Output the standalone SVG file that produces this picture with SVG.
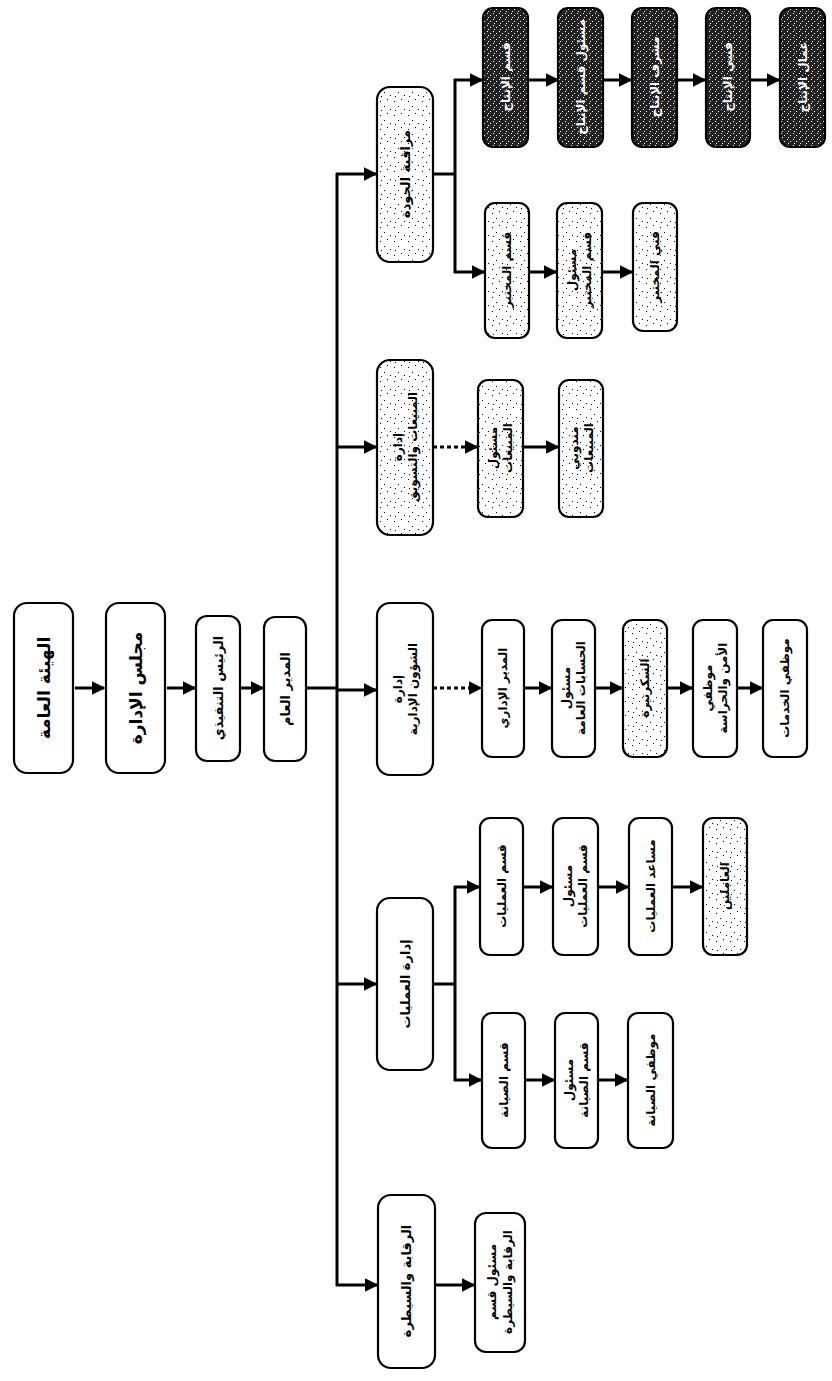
<svg xmlns="http://www.w3.org/2000/svg" width="832" height="1381" viewBox="0 0 832 1381">
<defs>
<marker id="ah" viewBox="0 0 10 10" refX="9" refY="5" markerWidth="4.6" markerHeight="4.6" orient="auto" markerUnits="strokeWidth">
<path d="M0,0 L10,5 L0,10 z" fill="#000"/>
</marker>
<pattern id="spk" width="14" height="14" patternUnits="userSpaceOnUse">
<rect width="14" height="14" fill="#fff"/>
<rect x="2" y="3" width="1" height="1" fill="#000"/><rect x="9" y="1" width="1" height="1" fill="#000"/>
<rect x="6" y="8" width="1" height="1" fill="#000"/><rect x="12" y="11" width="1" height="1" fill="#000"/>
<rect x="3" y="12" width="1" height="1" fill="#000"/>
</pattern>
<pattern id="drk" width="6" height="6" patternUnits="userSpaceOnUse">
<rect width="6" height="6" fill="#222"/>
<rect x="1" y="1" width="1" height="1" fill="#fff"/><rect x="4" y="3" width="1" height="1" fill="#fff"/>
<rect x="2" y="5" width="1" height="1" fill="#fff"/>
</pattern>
</defs>
<style>
.b{fill:#fff;stroke:#000;stroke-width:2.2}
.s{fill:url(#spk);stroke:#000;stroke-width:2.2}
.d{fill:url(#drk);stroke:#000;stroke-width:2.2}
.t{font-family:"DejaVu Sans","Noto Sans",sans-serif;font-weight:bold;font-size:12px;fill:#000;text-anchor:middle;dominant-baseline:central}
.L{font-size:17px}
.M{font-size:13px}
.w{fill:#fff}
.c{fill:none;stroke:#000;stroke-width:3}
.a{fill:none;stroke:#000;stroke-width:3;marker-end:url(#ah)}
.dash{stroke-dasharray:4 3}
</style>
<rect width="832" height="1381" fill="#fff"/>

<g id="connectors">
<line class="a" x1="75" y1="688" x2="104" y2="688"/>
<line class="a" x1="167" y1="688" x2="195" y2="688"/>
<line class="a" x1="241" y1="688" x2="263" y2="688"/>
<line class="c" x1="306" y1="688" x2="337" y2="688"/>
<line class="c" x1="337" y1="173" x2="337" y2="1286"/>
<line class="a" x1="336" y1="174" x2="376" y2="174"/>
<line class="a" x1="336" y1="447" x2="376" y2="447"/>
<line class="a" x1="336" y1="690" x2="376" y2="690"/>
<line class="a" x1="336" y1="984" x2="376" y2="984"/>
<line class="a" x1="336" y1="1285" x2="377" y2="1285"/>
<line class="c" x1="433" y1="174" x2="455" y2="174"/>
<line class="c" x1="455" y1="79" x2="455" y2="273"/>
<line class="a" x1="454" y1="80" x2="482" y2="80"/>
<line class="a" x1="454" y1="272" x2="484" y2="272"/>
<line class="a" x1="528" y1="80" x2="558" y2="80"/>
<line class="a" x1="603" y1="80" x2="631" y2="80"/>
<line class="a" x1="677" y1="80" x2="705" y2="80"/>
<line class="a" x1="750" y1="80" x2="779" y2="80"/>
<line class="a" x1="529" y1="272" x2="556" y2="272"/>
<line class="a" x1="602" y1="272" x2="632" y2="272"/>
<line class="a dash" x1="433" y1="447" x2="477" y2="447"/>
<line class="a" x1="523" y1="447" x2="558" y2="447"/>
<line class="a dash" x1="433" y1="688" x2="481" y2="688"/>
<line class="a" x1="524" y1="688" x2="551" y2="688"/>
<line class="a" x1="595" y1="688" x2="622" y2="688"/>
<line class="a" x1="667" y1="688" x2="692" y2="688"/>
<line class="a" x1="737" y1="688" x2="762" y2="688"/>
<line class="c" x1="433" y1="984" x2="455" y2="984"/>
<line class="c" x1="455" y1="886" x2="455" y2="1081"/>
<line class="a" x1="454" y1="887" x2="479" y2="887"/>
<line class="a" x1="454" y1="1080" x2="481" y2="1080"/>
<line class="a" x1="523" y1="887" x2="552" y2="887"/>
<line class="a" x1="598" y1="887" x2="628" y2="887"/>
<line class="a" x1="672" y1="887" x2="702" y2="887"/>
<line class="a" x1="525" y1="1080" x2="554" y2="1080"/>
<line class="a" x1="598" y1="1080" x2="627" y2="1080"/>
<line class="a" x1="435" y1="1285" x2="474" y2="1285"/>
</g>

<g id="n-assembly"><rect class="b" x="14" y="603" width="59" height="170" rx="13"/><text class="t L" transform="translate(43.5,688) rotate(-90)">الهيئة العامة</text></g>
<g id="n-board"><rect class="b" x="106" y="603" width="59" height="170" rx="13"/><text class="t L" transform="translate(135.5,688) rotate(-90)">مجلس الإدارة</text></g>
<g id="n-ceo"><rect class="b" x="196" y="616" width="44" height="145" rx="11"/><text class="t M" transform="translate(218,688) rotate(-90)">الرئيس التنفيذي</text></g>
<g id="n-gm"><rect class="b" x="264" y="617" width="42" height="144" rx="11"/><text class="t M" transform="translate(285,689) rotate(-90)">المدير العام</text></g>

<g id="n-quality"><rect class="s" x="377" y="87" width="56" height="175" rx="13"/><text class="t M" transform="translate(405,174) rotate(-90)">مراقبة الجودة</text></g>
<g id="n-sales"><rect class="s" x="377" y="360" width="56" height="175" rx="13"/><text class="t" transform="translate(398,447) rotate(-90)">إدارة</text><text class="t" transform="translate(413,447) rotate(-90)">المبيعات والتسويق</text></g>
<g id="n-admin"><rect class="b" x="377" y="603" width="56" height="172" rx="13"/><text class="t" transform="translate(398,689) rotate(-90)">إدارة</text><text class="t" transform="translate(413,689) rotate(-90)">الشؤون الإدارية</text></g>
<g id="n-ops"><rect class="b" x="377" y="898" width="56" height="172" rx="13"/><text class="t M" transform="translate(405,984) rotate(-90)">إدارة العمليات</text></g>
<g id="n-control"><rect class="b" x="378" y="1195" width="57" height="173" rx="13"/><text class="t M" transform="translate(406.5,1281) rotate(-90)">الرقابة والسيطرة</text></g>

<g id="n-q1"><rect class="d" x="483" y="8" width="45" height="139" rx="10"/><text class="t w" transform="translate(505.5,77) rotate(-90)">قسم الإنتاج</text></g>
<g id="n-q2"><rect class="d" x="558" y="8" width="45" height="139" rx="10"/><text class="t w" transform="translate(580.5,77) rotate(-90)">مسئول قسم الإنتاج</text></g>
<g id="n-q3"><rect class="d" x="632" y="8" width="45" height="139" rx="10"/><text class="t w" transform="translate(654.5,77) rotate(-90)">مشرف الإنتاج</text></g>
<g id="n-q4"><rect class="d" x="706" y="8" width="44" height="139" rx="10"/><text class="t w" transform="translate(728,77) rotate(-90)">فنيي الإنتاج</text></g>
<g id="n-q5"><rect class="d" x="780" y="8" width="45" height="139" rx="10"/><text class="t w" transform="translate(802.5,77) rotate(-90)">عمال الإنتاج</text></g>
<g id="n-q6"><rect class="s" x="485" y="203" width="44" height="135" rx="10"/><text class="t" transform="translate(507,270) rotate(-90)">قسم المختبر</text></g>
<g id="n-q7"><rect class="s" x="557" y="203" width="45" height="135" rx="10"/><text class="t" transform="translate(572,270) rotate(-90)">مسئول</text><text class="t" transform="translate(587,270) rotate(-90)">قسم المختبر</text></g>
<g id="n-q8"><rect class="s" x="633" y="203" width="44" height="128" rx="10"/><text class="t" transform="translate(655,267) rotate(-90)">فني المختبر</text></g>

<g id="n-s1"><rect class="s" x="478" y="380" width="45" height="137" rx="10"/><text class="t" transform="translate(493,448) rotate(-90)">مسئول</text><text class="t" transform="translate(508,448) rotate(-90)">المبيعات</text></g>
<g id="n-s2"><rect class="s" x="559" y="380" width="44" height="137" rx="10"/><text class="t" transform="translate(574,448) rotate(-90)">مندوبي</text><text class="t" transform="translate(589,448) rotate(-90)">المبيعات</text></g>

<g id="n-a1"><rect class="b" x="482" y="620" width="42" height="137" rx="10"/><text class="t" transform="translate(503,688) rotate(-90)">المدير الإداري</text></g>
<g id="n-a2"><rect class="b" x="552" y="620" width="43" height="137" rx="10"/><text class="t" transform="translate(566,688) rotate(-90)">مسئول</text><text class="t" transform="translate(581,688) rotate(-90)">الحسابات العامة</text></g>
<g id="n-a3"><rect class="s" x="623" y="620" width="44" height="137" rx="10"/><text class="t" transform="translate(645,688) rotate(-90)">السكرتيرة</text></g>
<g id="n-a4"><rect class="b" x="693" y="620" width="44" height="137" rx="10"/><text class="t" transform="translate(708,688) rotate(-90)">موظفي</text><text class="t" transform="translate(723,688) rotate(-90)">الأمن والحراسة</text></g>
<g id="n-a5"><rect class="b" x="763" y="620" width="44" height="137" rx="10"/><text class="t" transform="translate(785,688) rotate(-90)">موظفي الخدمات</text></g>

<g id="n-o1"><rect class="b" x="480" y="818" width="43" height="137" rx="10"/><text class="t" transform="translate(501.5,886) rotate(-90)">قسم العمليات</text></g>
<g id="n-o2"><rect class="b" x="553" y="818" width="45" height="137" rx="10"/><text class="t" transform="translate(568,886) rotate(-90)">مسئول</text><text class="t" transform="translate(583,886) rotate(-90)">قسم العمليات</text></g>
<g id="n-o3"><rect class="b" x="629" y="818" width="43" height="137" rx="10"/><text class="t" transform="translate(650.5,886) rotate(-90)">مساعد العمليات</text></g>
<g id="n-o4"><rect class="s" x="703" y="818" width="44" height="137" rx="10"/><text class="t" transform="translate(725,886) rotate(-90)">العاملين</text></g>
<g id="n-o5"><rect class="b" x="482" y="1013" width="43" height="135" rx="10"/><text class="t" transform="translate(503.5,1080) rotate(-90)">قسم الصيانة</text></g>
<g id="n-o6"><rect class="b" x="555" y="1013" width="43" height="135" rx="10"/><text class="t" transform="translate(569,1080) rotate(-90)">مسئول</text><text class="t" transform="translate(584,1080) rotate(-90)">قسم الصيانة</text></g>
<g id="n-o7"><rect class="b" x="628" y="1013" width="45" height="135" rx="10"/><text class="t" transform="translate(650.5,1080) rotate(-90)">موظفي الصيانة</text></g>

<g id="n-c1"><rect class="b" x="475" y="1213" width="50" height="139" rx="11"/><text class="t" transform="translate(492,1282) rotate(-90)">مسئول قسم</text><text class="t" transform="translate(508,1282) rotate(-90)">الرقابة والسيطرة</text></g>
</svg>
